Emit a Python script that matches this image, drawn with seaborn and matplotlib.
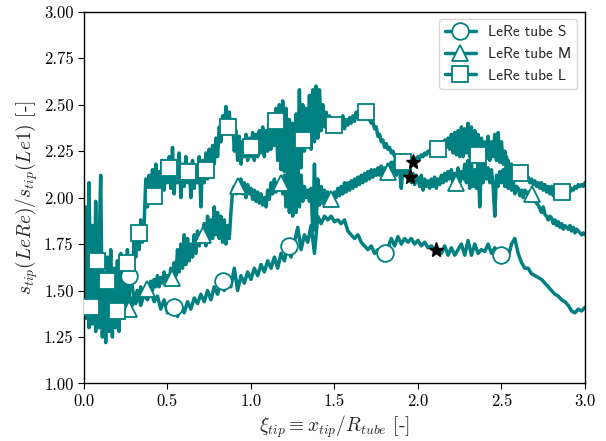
import numpy as np
import pandas as pd
import matplotlib
matplotlib.use("Agg")
import matplotlib.pyplot as plt
from matplotlib.lines import Line2D
import seaborn as sns

# ---- data ----
x_fine = np.round(np.linspace(0.0, 3.0, 301), 2)    # sampling of tubes M and L
x_coarse = np.round(np.linspace(0.0, 3.0, 151), 2)  # sampling of tube S

y_L = [1.45, 1.95, 1.40, 2.08, 1.50, 1.85, 1.35, 1.98, 1.45, 1.70,
       2.12, 1.30, 1.60, 1.22, 1.68, 1.28, 1.72, 1.25, 1.62, 1.30,
       1.66, 1.28, 1.70, 1.35, 1.62, 1.40, 1.72, 1.45, 1.68, 1.55,
       1.78, 1.68, 1.84, 1.72, 1.88, 1.76, 1.85, 2.10, 1.95, 2.12,
       1.98, 2.15, 2.00, 2.18, 2.03, 2.14, 2.06, 2.20, 2.04, 2.18,
       2.08, 2.22, 2.05, 2.27, 2.02, 2.20, 2.08, 2.24, 2.00, 2.18,
       2.06, 2.22, 2.08, 2.18, 2.00, 2.20, 2.05, 2.16, 2.08, 2.22,
       1.95, 2.20, 2.08, 2.24, 2.10, 2.26, 2.14, 2.28, 2.18, 2.32,
       2.22, 2.38, 2.30, 2.44, 2.36, 2.49, 2.40, 2.46, 2.35, 2.42,
       2.25, 2.36, 2.20, 2.33, 2.18, 2.30, 2.22, 2.34, 2.20, 2.32,
       2.22, 2.35, 2.20, 2.34, 2.22, 2.36, 2.24, 2.38, 2.22, 2.36,
       2.25, 2.40, 2.26, 2.42, 2.28, 2.48, 2.20, 2.50, 2.15, 2.52,
       2.14, 2.48, 2.18, 2.42, 2.22, 2.40, 2.25, 2.45, 2.20, 2.58,
       2.16, 2.50, 2.25, 2.48, 2.28, 2.55, 2.26, 2.58, 2.30, 2.60,
       2.32, 2.58, 2.36, 2.50, 2.38, 2.46, 2.36, 2.44, 2.38, 2.42,
       2.36, 2.42, 2.37, 2.43, 2.38, 2.44, 2.37, 2.42, 2.39, 2.43,
       2.40, 2.44, 2.41, 2.46, 2.43, 2.47, 2.44, 2.48, 2.45, 2.47,
       2.44, 2.42, 2.40, 2.41, 2.37, 2.38, 2.33, 2.34, 2.30, 2.31,
       2.27, 2.29, 2.26, 2.27, 2.24, 2.25, 2.22, 2.23, 2.20, 2.21,
       2.19, 2.20, 2.17, 2.19, 2.18, 2.20, 2.18, 2.21, 2.19, 2.21,
       2.22, 2.21, 2.23, 2.22, 2.24, 2.23, 2.25, 2.24, 2.26, 2.25,
       2.27, 2.25, 2.28, 2.26, 2.30, 2.26, 2.31, 2.27, 2.32, 2.26,
       2.34, 2.24, 2.35, 2.23, 2.36, 2.22, 2.38, 2.22, 2.37, 2.24,
       2.40, 2.22, 2.38, 2.21, 2.36, 2.22, 2.34, 2.20, 2.32, 2.22,
       2.30, 2.21, 2.33, 2.20, 2.30, 2.22, 2.34, 2.20, 2.35, 2.19,
       2.30, 2.18, 2.25, 2.17, 2.20, 2.15, 2.18, 2.14, 2.16, 2.13,
       2.14, 2.12, 2.13, 2.11, 2.12, 2.10, 2.11, 2.08, 2.10, 2.07,
       2.09, 2.06, 2.08, 2.05, 2.08, 2.04, 2.07, 2.03, 2.06, 2.02,
       2.06, 2.01, 2.04, 2.02, 2.04, 2.00, 2.03, 2.01, 2.02, 2.00,
       2.04, 2.03, 2.05, 2.04, 2.06, 2.05, 2.07, 2.06, 2.07, 2.06,
       2.08]

y_M = [1.55, 1.35, 1.70, 1.30, 1.75, 1.32, 1.62, 1.28, 1.58, 1.30,
       1.55, 1.25, 1.52, 1.30, 1.50, 1.32, 1.48, 1.35, 1.50, 1.36,
       1.52, 1.38, 1.48, 1.40, 1.46, 1.38, 1.44, 1.40, 1.46, 1.42,
       1.48, 1.43, 1.50, 1.45, 1.52, 1.46, 1.50, 1.48, 1.53, 1.50,
       1.55, 1.50, 1.56, 1.52, 1.58, 1.52, 1.57, 1.54, 1.60, 1.55,
       1.58, 1.55, 1.62, 1.56, 1.65, 1.58, 1.72, 1.60, 1.75, 1.62,
       1.80, 1.64, 1.78, 1.66, 1.75, 1.68, 1.80, 1.70, 1.82, 1.74,
       1.80, 1.76, 1.86, 1.74, 1.90, 1.76, 1.88, 1.78, 1.95, 1.80,
       1.92, 1.78, 1.90, 1.76, 1.88, 1.75, 1.85, 1.78, 1.92, 2.04,
       2.06, 2.02, 2.08, 2.03, 2.10, 2.02, 2.08, 2.00, 2.07, 2.02,
       2.05, 1.99, 2.04, 1.98, 2.03, 1.97, 2.02, 1.96, 2.00, 1.95,
       2.04, 1.99, 2.08, 2.02, 2.10, 2.03, 2.08, 2.04, 2.10, 2.02,
       2.12, 1.95, 2.18, 1.92, 2.22, 1.90, 2.25, 1.92, 2.20, 1.95,
       2.12, 1.98, 2.06, 2.00, 2.04, 1.98, 2.05, 1.82, 2.18, 1.85,
       2.10, 1.96, 2.06, 1.97, 2.04, 1.98, 2.03, 1.99, 2.02, 2.00,
       2.03, 2.00, 2.05, 2.01, 2.06, 2.02, 2.08, 2.03, 2.08, 2.04,
       2.09, 2.05, 2.10, 2.06, 2.11, 2.07, 2.12, 2.08, 2.13, 2.09,
       2.14, 2.10, 2.15, 2.11, 2.15, 2.12, 2.16, 2.12, 2.17, 2.13,
       2.16, 2.14, 2.18, 2.15, 2.19, 2.14, 2.20, 2.12, 2.21, 2.15,
       2.05, 2.16, 2.12, 2.18, 2.10, 2.14, 2.08, 2.13, 2.07, 2.12,
       2.10, 2.06, 2.12, 2.04, 2.10, 2.06, 2.09, 2.05, 2.10, 2.06,
       2.11, 2.05, 2.10, 2.07, 2.12, 2.08, 2.13, 2.09, 2.14, 2.10,
       2.15, 2.08, 2.13, 2.10, 2.16, 2.08, 2.14, 2.10, 2.18, 2.08,
       2.20, 2.05, 2.18, 2.06, 2.15, 2.05, 2.20, 1.95, 2.18, 2.08,
       2.18, 2.10, 2.16, 2.08, 2.15, 2.06, 1.90, 2.12, 2.06, 2.14,
       2.08, 2.15, 2.06, 2.22, 2.05, 2.14, 2.04, 2.10, 2.02, 2.06,
       2.05, 2.01, 2.04, 2.00, 2.04, 2.02, 2.03, 2.01, 2.02, 2.00,
       1.98, 1.97, 1.96, 1.94, 1.92, 1.95, 1.91, 1.90, 1.88, 1.90,
       1.89, 1.86, 1.88, 1.85, 1.87, 1.84, 1.86, 1.83, 1.85, 1.84,
       1.83, 1.85, 1.82, 1.84, 1.81, 1.83, 1.82, 1.81, 1.80, 1.81,
       1.80]

y_S = [1.60, 1.40, 1.70, 1.45, 1.62, 1.38, 1.58, 1.42, 1.55, 1.40,
       1.52, 1.42, 1.55, 1.45, 1.58, 1.45, 1.50, 1.42, 1.48, 1.45,
       1.50, 1.44, 1.47, 1.40, 1.45, 1.38, 1.42, 1.40, 1.36, 1.42,
       1.38, 1.44, 1.40, 1.46, 1.43, 1.48, 1.44, 1.50, 1.45, 1.52,
       1.48, 1.55, 1.50, 1.56, 1.52, 1.62, 1.50, 1.58, 1.54, 1.60,
       1.56, 1.62, 1.58, 1.64, 1.60, 1.66, 1.62, 1.68, 1.62, 1.70,
       1.66, 1.74, 1.68, 1.76, 1.84, 1.72, 1.80, 1.76, 1.85, 1.70,
       1.90, 1.86, 1.90, 1.88, 1.90, 1.87, 1.88, 1.86, 1.88, 1.82,
       1.80, 1.78, 1.80, 1.76, 1.74, 1.72, 1.74, 1.70, 1.72, 1.69,
       1.70, 1.73, 1.78, 1.74, 1.79, 1.75, 1.78, 1.76, 1.78, 1.75,
       1.77, 1.74, 1.76, 1.73, 1.74, 1.72, 1.72, 1.70, 1.74, 1.69,
       1.73, 1.69, 1.72, 1.75, 1.69, 1.77, 1.69, 1.75, 1.70, 1.72,
       1.71, 1.75, 1.70, 1.73, 1.70, 1.69, 1.72, 1.68, 1.75, 1.78,
       1.70, 1.65, 1.62, 1.62, 1.59, 1.58, 1.57, 1.56, 1.54, 1.52,
       1.50, 1.48, 1.47, 1.45, 1.44, 1.42, 1.39, 1.38, 1.40, 1.39,
       1.41]

# marker samples along each curve
mk_S_x = [0.27, 0.54, 0.83, 1.23, 1.80, 2.50]
mk_S_y = [1.58, 1.41, 1.55, 1.74, 1.70, 1.69]
mk_M_x = [0.27, 0.38, 0.53, 0.71, 0.92, 1.18, 1.48, 1.82, 2.23, 2.68]
mk_M_y = [1.40, 1.51, 1.57, 1.80, 2.06, 2.08, 1.99, 2.14, 2.08, 2.02]
mk_L_x = [0.04, 0.08, 0.14, 0.20, 0.26, 0.33, 0.42, 0.51, 0.62, 0.73, 0.86,
          1.00, 1.15, 1.31, 1.50, 1.69, 1.91, 2.12, 2.36, 2.61, 2.86]
mk_L_y = [1.41, 1.66, 1.55, 1.39, 1.65, 1.81, 2.01, 2.16, 2.14, 2.15, 2.38,
          2.27, 2.41, 2.31, 2.39, 2.46, 2.19, 2.26, 2.23, 2.13, 2.03]

# transition points (stars)
star_x = [1.97, 1.95, 2.11]
star_y = [2.19, 2.11, 1.72]

labels = ["LeRe tube S", "LeRe tube M", "LeRe tube L"]
markers = ["o", "^", "s"]

# ---- styling ----
sns.set_style("ticks")
plt.rcParams["font.family"] = ["cmr10", "DejaVu Serif"]
plt.rcParams["mathtext.fontset"] = "cm"
plt.rcParams["axes.formatter.use_mathtext"] = True
plt.rcParams["axes.edgecolor"] = "black"
plt.rcParams["xtick.color"] = "black"
plt.rcParams["ytick.color"] = "black"
plt.rcParams["axes.linewidth"] = 1.0

teal = "#008080"

fig = plt.figure(figsize=(6.06, 4.41), dpi=100)
ax = fig.add_axes([0.1386, 0.1304, 0.8267, 0.8431])

df = pd.concat([
    pd.DataFrame({"x": x_coarse, "y": y_S, "case": labels[0]}),
    pd.DataFrame({"x": x_fine, "y": y_M, "case": labels[1]}),
    pd.DataFrame({"x": x_fine, "y": y_L, "case": labels[2]}),
], ignore_index=True)

sns.lineplot(data=df, x="x", y="y", hue="case", units="case",
             estimator=None, sort=False,
             palette=[teal, teal, teal], linewidth=2.5, legend=False, ax=ax)

for mx, my, m in [(mk_S_x, mk_S_y, "o"), (mk_M_x, mk_M_y, "^"), (mk_L_x, mk_L_y, "s")]:
    ax.plot(mx, my, linestyle="none", marker=m, markersize=12,
            markerfacecolor="white", markeredgecolor=teal, markeredgewidth=1.3,
            zorder=3)

ax.plot(star_x, star_y, linestyle="none", marker="*", markersize=11,
        color="black", zorder=4)

ax.set_xlim(0, 3)
ax.set_ylim(1, 3)
ax.set_xticks([0.0, 0.5, 1.0, 1.5, 2.0, 2.5, 3.0])
ax.set_yticks([1.0, 1.25, 1.5, 1.75, 2.0, 2.25, 2.5, 2.75, 3.0])
ax.set_xticklabels(["0.0", "0.5", "1.0", "1.5", "2.0", "2.5", "3.0"])
ax.set_yticklabels(["1.00", "1.25", "1.50", "1.75", "2.00", "2.25", "2.50", "2.75", "3.00"])
ax.tick_params(labelsize=12, direction="out", length=4)
ax.set_xlabel(r"$\xi_{tip} \equiv x_{tip}/R_{tube}$ [-]", fontsize=14, labelpad=3)
ax.set_ylabel(r"$s_{tip}(LeRe)/s_{tip}(Le1)$ [-]", fontsize=14, labelpad=3)

handles = [Line2D([0], [0], color=teal, linewidth=2.5, marker=m, markersize=12,
                  markerfacecolor="white", markeredgecolor=teal, markeredgewidth=1.3)
           for m in markers]
leg = ax.legend(handles, labels, loc="upper right", frameon=True,
                prop={"family": "cmss10", "size": 11}, handlelength=2.0,
                fancybox=True, framealpha=0.8, edgecolor="#cccccc")

fig.savefig("out.png", dpi=100)
